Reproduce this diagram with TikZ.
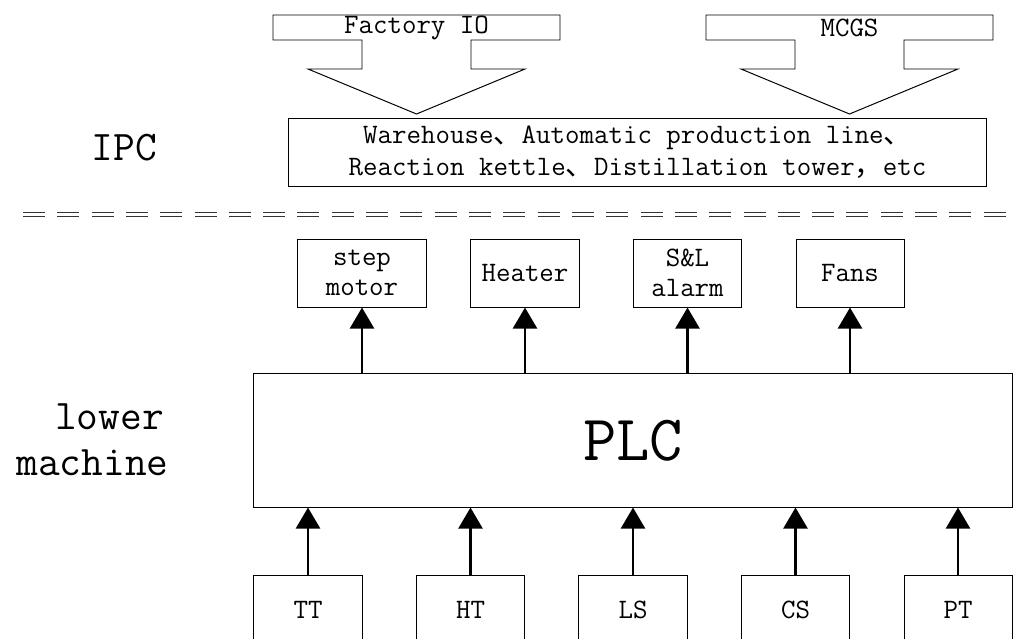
\documentclass[tikz,border=0pt]{standalone}
\usepackage{fontspec}
\newfontfamily\cjk{Noto Sans CJK SC}
\usetikzlibrary{arrows.meta}

\begin{document}
\begin{tikzpicture}[x=0.025cm, y=-0.025cm, line width=0.7pt,
  lbl/.style = {inner sep=0pt, align=center, font=\fontsize{20}{21.3}\selectfont\ttfamily},
  box/.style = {lbl, draw},
  unit/.style = {box, minimum width=2.7cm, minimum height=1.7cm},
  sig/.style = {-{Triangle[length=15pt, width=17pt]}, line width=2.1pt},
  big/.style = {inner sep=0pt, align=left, font=\fontsize{30}{32.7}\selectfont\ttfamily}]
\useasboundingbox (0,0) rectangle (1015,639);
\clip (0,0) rectangle (1015,639);

% upper computer
\foreach \cx/\name/\txt in {416.5/factory/Factory IO, 849.5/mcgs/MCGS} {
  \draw (\cx-143.5,15) -- (\cx+143.5,15) -- (\cx+143.5,40) -- (\cx+54.5,40) -- (\cx+54.5,69)
    -- (\cx+108.5,69) -- (\cx,114) -- (\cx-108.5,69) -- (\cx-54.5,69) -- (\cx-54.5,40)
    -- (\cx-143.5,40) -- cycle;
  \node [lbl] (\name) at (\cx,27.5) {\txt};
}
\node [box, minimum width=17.425cm, minimum height=1.7cm, font=\fontsize{20}{22.7}\selectfont\ttfamily] (scene) at (637.5,152)
  {Warehouse{\cjk 、}Automatic production line{\cjk 、}\\Reaction kettle{\cjk 、}Distillation tower{\cjk ，}etc};
\node [big] (ipc) at (124.5,148) {IPC};

% separator
\draw [black!80, double, double distance=1.8pt, line width=1pt, dash pattern=on 15.65pt off 8.75pt] (23,214.5) -- (1006,214.5);

% lower machine
\node [big] (lower) at (92.5,440) {\hspace*{0.92em}lower\\machine};
\node [box, minimum width=18.95cm, minimum height=3.325cm, font=\fontsize{46}{46}\selectfont\ttfamily] (plc) at (633,440.5) {PLC};

\node [unit, minimum width=3.2cm] (motor) at (362,273) {step\\motor};
\node [unit] (heater) at (525,273) {Heater};
\node [unit] (alarm) at (687.5,273) {S\&L\\alarm};
\node [unit] (fans) at (850,273) {Fans};
\foreach \name in {motor, heater, alarm, fans}
  \draw [sig] (plc.north -| \name) -- (\name);

\foreach \name/\txt [count=\i] in {tt/TT, ht/HT, ls/LS, cs/CS, pt/PT}
  \node [unit, minimum height=1.75cm] (\name) at (145.5+162.5*\i,610) {\txt};
\foreach \name in {tt, ht, ls, cs, pt}
  \draw [sig] (\name) -- (plc.south -| \name);
\end{tikzpicture}
\end{document}
